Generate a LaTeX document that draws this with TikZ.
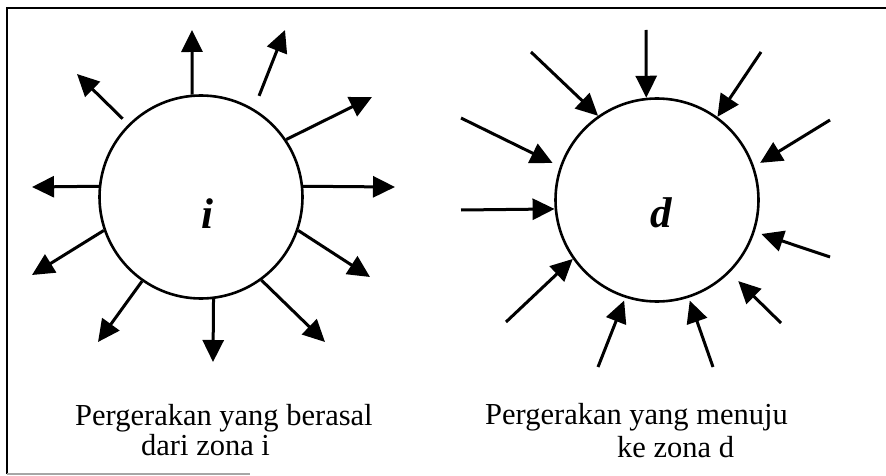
\documentclass[tikz,border=0pt]{standalone}
\usepackage{fontspec}
\setmainfont{Liberation Serif}
\usepackage{xcolor}
\usepackage{tikz}
\usetikzlibrary{arrows.meta,positioning}

\begin{document}
\begin{tikzpicture}[x=1pt, y=-1pt,
  zone/.style={circle, draw=black, line width=2.6pt, minimum size=203pt, inner sep=0pt},
  zonelabel/.style={anchor=base, inner sep=0pt, font=\fontsize{43}{48}\selectfont\bfseries\itshape},
  caption/.style={anchor=base west, inner sep=0pt, font=\fontsize{30.5}{34}\selectfont},
  line/.style={draw, line width=3pt, -{Triangle[length=22pt, width=21pt]}}]
  \useasboundingbox (0,0) rectangle (886,476);

  % frame
  \draw [line width=2.6pt] (7,474) -- (7,8) -- (886,8);
  \draw [gray!70, line width=1.6pt] (7,474) -- (250,474);

  \node [zone] (zonei) at (201,197) {};
  \node [zone] (zonad) at (657,200) {};
  \node [zonelabel] (namai) at (207,228) {i};
  \node [zonelabel] (namad) at (661,227) {d};

  % ends of the outgoing arrows
  \coordinate (k1) at (192,30);  \coordinate (k2) at (285,30);  \coordinate (k3) at (372,97);
  \coordinate (k4) at (395,187); \coordinate (k5) at (370,277); \coordinate (k6) at (325,342);
  \coordinate (k7) at (213,362); \coordinate (k8) at (98,342);  \coordinate (k9) at (32,275);
  \coordinate (k10) at (32,187); \coordinate (k11) at (77,74);

  \path [line] (zonei.95) -- (k1);
  \path [line, shorten <=14pt] (zonei.59) -- (k2);
  \path [line] (zonei.34) -- (k3);
  \path [line] (zonei.6) -- (k4);
  \path [line] (zonei.341) -- (k5);
  \path [line] (zonei.306) -- (k6);
  \path [line] (zonei.277) -- (k7);
  \path [line] (zonei.235) -- (k8);
  \path [line] (zonei.199) -- (k9);
  \path [line] (zonei.174) -- (k10);
  \path [line, shorten <=8pt] (zonei.135) -- (k11);

  % starts of the incoming arrows
  \coordinate (m1) at (646,30);  \coordinate (m2) at (531,52);  \coordinate (m3) at (761,52);
  \coordinate (m4) at (461,118); \coordinate (m5) at (830,120); \coordinate (m6) at (461,210);
  \coordinate (m7) at (830,257); \coordinate (m8) at (506,322); \coordinate (m9) at (781,323);
  \coordinate (m10) at (598,367); \coordinate (m11) at (713,367);

  \path [line] (m1) -- (zonad.96);
  \path [line] (m2) -- (zonad.125);
  \path [line] (m3) -- (zonad.54);
  \path [line, shorten >=8pt] (m4) -- (zonad.161);
  \path [line, shorten >=7pt] (m5) -- (zonad.19);
  \path [line] (m6) -- (zonad.185);
  \path [line, shorten >=7pt] (m7) -- (zonad.342);
  \path [line] (m8) -- (zonad.215);
  \path [line, shorten >=12pt] (m9) -- (zonad.315);
  \path [line, shorten >=3pt] (m10) -- (zonad.252);
  \path [line, shorten >=3pt] (m11) -- (zonad.288);

  \node [caption] (asal1) at (75,425) {Pergerakan yang berasal};
  \node [caption] (asal2) at (141,455) {dari zona i};
  \node [caption] (tuju1) at (485,424) {Pergerakan yang menuju};
  \node [caption] (tuju2) at (617,457) {ke zona d};
\end{tikzpicture}
\end{document}
